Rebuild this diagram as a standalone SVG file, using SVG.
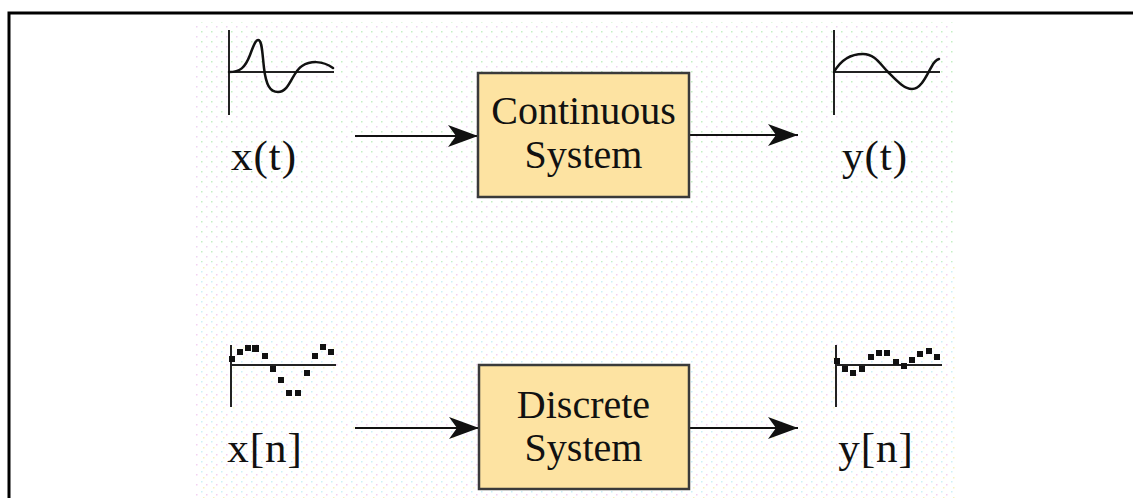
<svg xmlns="http://www.w3.org/2000/svg" width="1133" height="498" viewBox="0 0 1133 498">
<style>
.lbl{font-family:"Liberation Serif","Times New Roman",serif;font-size:40px;fill:#111;text-anchor:middle}
.sig{font-size:43px;letter-spacing:1px}
.box{fill:#fde3a2;stroke:#3a3a3a;stroke-width:2.5}
.ax{stroke:#222;stroke-width:2;fill:none}
.wave{stroke:#111;stroke-width:2.5;fill:none;stroke-linecap:round}
.conn{stroke:#111;stroke-width:2;fill:none}
.dot{fill:#111}
</style>
<defs>
<pattern id="dotsTop" width="10" height="10" patternUnits="userSpaceOnUse">
<rect x="1" y="1" width="1.5" height="1.5" fill="#c4f0c4"/>
<rect x="6" y="6" width="1.5" height="1.5" fill="#eed4f2"/>
</pattern>
<pattern id="dotsBot" width="10" height="10" patternUnits="userSpaceOnUse">
<rect x="1" y="1" width="1.5" height="1.5" fill="#cdf0f6"/>
<rect x="6" y="4" width="1.5" height="1.5" fill="#f2d0f0"/>
<rect x="3" y="7" width="1.5" height="1.5" fill="#f6f2c0"/>
</pattern>
<marker id="arr" markerUnits="userSpaceOnUse" markerWidth="30" markerHeight="22" refX="30" refY="11" orient="auto">
<path d="M0,0 L30,11 L0,22 L8,11 Z" fill="#111"/>
</marker>
</defs>
<rect x="0" y="0" width="1133" height="498" fill="#ffffff"/>
<rect x="195" y="22" width="760" height="240" fill="url(#dotsTop)"/>
<rect x="195" y="262" width="760" height="236" fill="url(#dotsBot)"/>
<path d="M9,498 L9,13 L1133,13" fill="none" stroke="#000" stroke-width="3"/>

<g id="connectors">
<line class="conn" x1="355" y1="136" x2="478" y2="136" marker-end="url(#arr)"/>
<line class="conn" x1="689" y1="135" x2="798" y2="135" marker-end="url(#arr)"/>
<line class="conn" x1="355" y1="428" x2="479" y2="428" marker-end="url(#arr)"/>
<line class="conn" x1="689" y1="428" x2="798" y2="428" marker-end="url(#arr)"/>
</g>

<g id="xt">
<line class="ax" x1="229" y1="30" x2="229" y2="115"/>
<line class="ax" x1="229" y1="72" x2="334" y2="72"/>
<path class="wave" d="M229,72 C240,72 245,68 250,55 C254,44 256,40 258,40 C262,40 262,50 264,68 C266,85 270,92 278,92 C290,92 292,72 302,66 C310,61 322,60 333,68"/>
<text class="lbl sig" x="264" y="170">x(t)</text>
</g>

<g id="continuous">
<rect class="box" x="478" y="73" width="211" height="124"/>
<text class="lbl" x="583.5" y="124">Continuous</text>
<text class="lbl" x="583.5" y="168">System</text>
</g>

<g id="yt">
<line class="ax" x1="834" y1="30" x2="834" y2="115"/>
<line class="ax" x1="834" y1="72" x2="940" y2="72"/>
<path class="wave" d="M834,72 C842,58 852,54 863,54 C875,54 880,64 888,72 C896,80 904,89 912,89 C922,89 928,72 932,66 C934,62 936,60 939,59"/>
<text class="lbl sig" x="875" y="170">y(t)</text>
</g>

<g id="xn">
<line class="ax" x1="231" y1="345" x2="231" y2="407"/>
<line class="ax" x1="231" y1="365" x2="336" y2="365"/>
<g class="dot">
<rect x="229" y="356" width="6" height="6"/>
<rect x="237" y="349" width="6" height="6"/>
<rect x="245" y="345" width="6" height="6"/>
<rect x="252" y="345" width="7" height="7"/>
<rect x="262" y="353" width="6" height="6"/>
<rect x="270" y="366" width="6" height="6"/>
<rect x="278" y="377" width="6" height="6"/>
<rect x="286" y="390" width="6" height="6"/>
<rect x="295" y="390" width="6" height="6"/>
<rect x="304" y="370" width="6" height="6"/>
<rect x="312" y="353" width="6" height="6"/>
<rect x="320" y="344" width="6" height="6"/>
<rect x="328" y="349" width="6" height="6"/>
</g>
<text class="lbl sig" x="265" y="462">x[n]</text>
</g>

<g id="discrete">
<rect class="box" x="479" y="365" width="210" height="124"/>
<text class="lbl" x="583.5" y="418">Discrete</text>
<text class="lbl" x="583.5" y="461">System</text>
</g>

<g id="yn">
<line class="ax" x1="836" y1="345" x2="836" y2="407"/>
<line class="ax" x1="836" y1="365" x2="942" y2="365"/>
<g class="dot">
<rect x="834" y="358" width="6" height="6"/>
<rect x="842" y="366" width="6" height="6"/>
<rect x="850" y="370" width="6" height="6"/>
<rect x="859" y="366" width="6" height="6"/>
<rect x="868" y="354" width="6" height="6"/>
<rect x="876" y="350" width="6" height="6"/>
<rect x="884" y="350" width="6" height="6"/>
<rect x="893" y="359" width="6" height="6"/>
<rect x="901" y="363" width="6" height="6"/>
<rect x="909" y="357" width="6" height="6"/>
<rect x="917" y="351" width="6" height="6"/>
<rect x="926" y="348" width="6" height="6"/>
<rect x="934" y="354" width="6" height="6"/>
</g>
<text class="lbl sig" x="876" y="462">y[n]</text>
</g>
</svg>
